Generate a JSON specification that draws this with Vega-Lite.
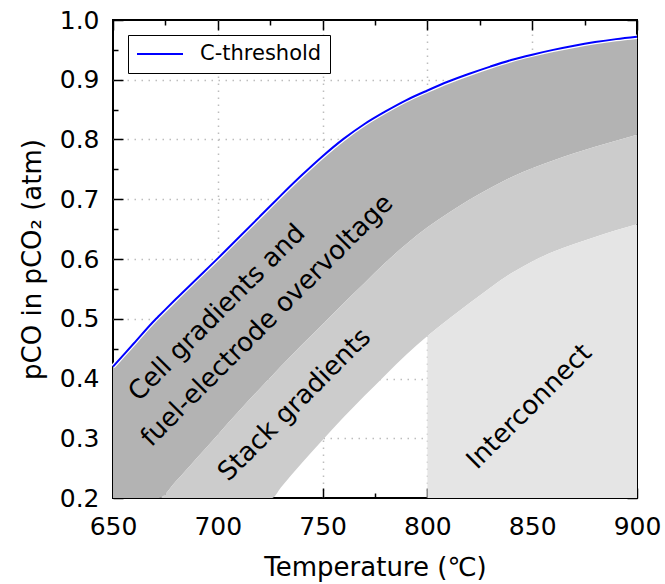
{
  "$schema": "https://vega.github.io/schema/vega-lite/v6.json",
  "width": 524,
  "height": 478,
  "autosize": "none",
  "padding": {"left": 113, "top": 20, "right": 28, "bottom": 86},
  "background": "white",
  "config": {
    "view": {"stroke": "#000000", "strokeWidth": 2},
    "font": "DejaVu Sans",
    "axis": {
      "domain": false,
      "labelFont": "DejaVu Sans",
      "labelFontSize": 25,
      "labelColor": "#000000",
      "titleFont": "DejaVu Sans",
      "titleFontSize": 26,
      "titleFontWeight": "normal",
      "titleColor": "#000000",
      "tickColor": "#000000",
      "tickWidth": 1.5,
      "gridColor": "#bdbdbd",
      "gridWidth": 1.5,
      "gridDash": [1.5, 5.5],
      "labelOverlap": false,
      "labelFlush": false
    }
  },
  "datasets": {
    "bands": [
      {"T": 650, "c": 0.420, "su": 0.2, "sl": 0.2},
      {"T": 660, "c": 0.459, "su": 0.2, "sl": 0.2},
      {"T": 670, "c": 0.498, "su": 0.2, "sl": 0.2},
      {"T": 672, "c": 0.505, "su": 0.2, "sl": 0.2},
      {"T": 680, "c": 0.533, "su": 0.228, "sl": 0.2},
      {"T": 690, "c": 0.567, "su": 0.267, "sl": 0.2},
      {"T": 700, "c": 0.601, "su": 0.306, "sl": 0.2},
      {"T": 710, "c": 0.636, "su": 0.345, "sl": 0.2},
      {"T": 720, "c": 0.671, "su": 0.383, "sl": 0.2},
      {"T": 726, "c": 0.692, "su": 0.405, "sl": 0.2},
      {"T": 730, "c": 0.706, "su": 0.420, "sl": 0.217},
      {"T": 740, "c": 0.740, "su": 0.456, "sl": 0.258},
      {"T": 750, "c": 0.772, "su": 0.491, "sl": 0.297},
      {"T": 760, "c": 0.801, "su": 0.526, "sl": 0.335},
      {"T": 770, "c": 0.826, "su": 0.560, "sl": 0.371},
      {"T": 780, "c": 0.847, "su": 0.594, "sl": 0.406},
      {"T": 790, "c": 0.866, "su": 0.625, "sl": 0.440},
      {"T": 800, "c": 0.882, "su": 0.653, "sl": 0.471},
      {"T": 810, "c": 0.897, "su": 0.677, "sl": 0.499},
      {"T": 820, "c": 0.910, "su": 0.699, "sl": 0.526},
      {"T": 830, "c": 0.922, "su": 0.719, "sl": 0.552},
      {"T": 840, "c": 0.933, "su": 0.737, "sl": 0.576},
      {"T": 850, "c": 0.942, "su": 0.752, "sl": 0.596},
      {"T": 860, "c": 0.950, "su": 0.765, "sl": 0.612},
      {"T": 870, "c": 0.957, "su": 0.777, "sl": 0.625},
      {"T": 880, "c": 0.963, "su": 0.788, "sl": 0.637},
      {"T": 890, "c": 0.968, "su": 0.798, "sl": 0.648},
      {"T": 900, "c": 0.972, "su": 0.808, "sl": 0.658}
    ],
    "notes": [
      {"label": "Cell gradients and", "T": 699.6, "p": 0.51},
      {"label": "fuel-electrode overvoltage", "T": 723.5, "p": 0.497},
      {"label": "Stack gradients", "T": 736.6, "p": 0.356},
      {"label": "Interconnect", "T": 848.6, "p": 0.353}
    ]
  },
  "resolve": {"axis": {"x": "independent", "y": "independent"}},
  "layer": [
    {
      "data": {"name": "bands"},
      "mark": {"type": "area", "color": "#b3b3b3", "opacity": 1, "interpolate": "monotone"},
      "encoding": {
        "x": {
          "field": "T", "type": "quantitative",
          "scale": {"domain": [650, 900], "nice": false, "zero": false},
          "axis": {
            "orient": "bottom",
            "title": "Temperature (℃)",
            "titlePadding": 10,
            "values": [650, 675, 700, 725, 750, 775, 800, 825, 850, 875, 900],
            "labelExpr": "datum.value % 50 === 0 ? datum.label : ''",
            "labelPadding": 26,
            "tickSize": {"condition": {"test": "datum.value % 50 === 0", "value": -10}, "value": -5},
            "grid": true,
            "gridOpacity": {"condition": {"test": "datum.value % 50 === 0 && datum.value > 650 && datum.value < 900", "value": 1}, "value": 0}
          }
        },
        "y": {
          "field": "c", "type": "quantitative",
          "scale": {"domain": [0.2, 1.0], "nice": false, "zero": false},
          "axis": {
            "orient": "left",
            "title": "pCO in pCO₂ (atm)",
            "titlePadding": 14,
            "values": [0.2, 0.25, 0.3, 0.35, 0.4, 0.45, 0.5, 0.55, 0.6, 0.65, 0.7, 0.75, 0.8, 0.85, 0.9, 0.95, 1.0],
            "labelExpr": "abs(datum.value * 10 - round(datum.value * 10)) < 0.001 ? format(datum.value, '.1f') : ''",
            "labelPadding": 24,
            "tickSize": {"condition": {"test": "abs(datum.value * 10 - round(datum.value * 10)) < 0.001", "value": -10}, "value": -5},
            "grid": true,
            "gridOpacity": {"condition": {"test": "abs(datum.value * 10 - round(datum.value * 10)) < 0.001 && datum.value > 0.21 && datum.value < 0.99", "value": 1}, "value": 0}
          }
        },
        "y2": {"field": "su"}
      }
    },
    {
      "data": {"name": "bands"},
      "mark": {"type": "area", "color": "#cccccc", "opacity": 1, "interpolate": "monotone"},
      "encoding": {
        "x": {
          "field": "T", "type": "quantitative",
          "axis": {
            "orient": "top",
            "title": null,
            "values": [650, 675, 700, 725, 750, 775, 800, 825, 850, 875, 900],
            "labels": false,
            "grid": false,
            "tickSize": {"condition": {"test": "datum.value % 50 === 0", "value": -10}, "value": -5}
          }
        },
        "y": {
          "field": "su", "type": "quantitative",
          "axis": {
            "orient": "right",
            "title": null,
            "values": [0.2, 0.25, 0.3, 0.35, 0.4, 0.45, 0.5, 0.55, 0.6, 0.65, 0.7, 0.75, 0.8, 0.85, 0.9, 0.95, 1.0],
            "labels": false,
            "grid": false,
            "tickSize": {"condition": {"test": "abs(datum.value * 10 - round(datum.value * 10)) < 0.001", "value": -10}, "value": -5}
          }
        },
        "y2": {"field": "sl"}
      }
    },
    {
      "data": {"name": "bands"},
      "transform": [{"filter": "datum.T >= 800"}],
      "mark": {"type": "area", "color": "#e5e5e5", "opacity": 1, "interpolate": "monotone"},
      "encoding": {
        "x": {"field": "T", "type": "quantitative", "axis": null},
        "y": {"field": "sl", "type": "quantitative", "axis": null},
        "y2": {"datum": 0.2}
      }
    },
    {
      "data": {"name": "bands"},
      "mark": {"type": "line", "color": "#ffffff", "strokeWidth": 4.5, "interpolate": "monotone"},
      "encoding": {
        "x": {"field": "T", "type": "quantitative", "axis": null},
        "y": {"field": "c", "type": "quantitative", "axis": null}
      }
    },
    {
      "data": {"name": "bands"},
      "mark": {"type": "line", "strokeWidth": 2, "interpolate": "monotone"},
      "encoding": {
        "x": {"field": "T", "type": "quantitative", "axis": null},
        "y": {"field": "c", "type": "quantitative", "axis": null},
        "color": {
          "datum": "C-threshold",
          "scale": {"domain": ["C-threshold"], "range": ["#0000ff"]},
          "legend": {
            "orient": "none",
            "legendX": 15,
            "legendY": 15,
            "title": null,
            "symbolType": "stroke",
            "symbolSize": 2116,
            "symbolStrokeWidth": 2,
            "symbolOffset": 0,
            "clipHeight": 22,
            "labelFont": "DejaVu Sans",
            "labelFontSize": 21,
            "labelColor": "#000000",
            "labelOffset": 16,
            "padding": 8,
            "strokeColor": "#000000",
            "fillColor": "#ffffff",
            "cornerRadius": 0
          }
        }
      }
    },
    {
      "data": {"name": "notes"},
      "mark": {"type": "text", "angle": 315, "align": "center", "baseline": "middle", "font": "DejaVu Sans", "fontSize": 26, "color": "#000000"},
      "encoding": {
        "x": {"field": "T", "type": "quantitative", "axis": null},
        "y": {"field": "p", "type": "quantitative", "axis": null},
        "text": {"field": "label"}
      }
    }
  ]
}
